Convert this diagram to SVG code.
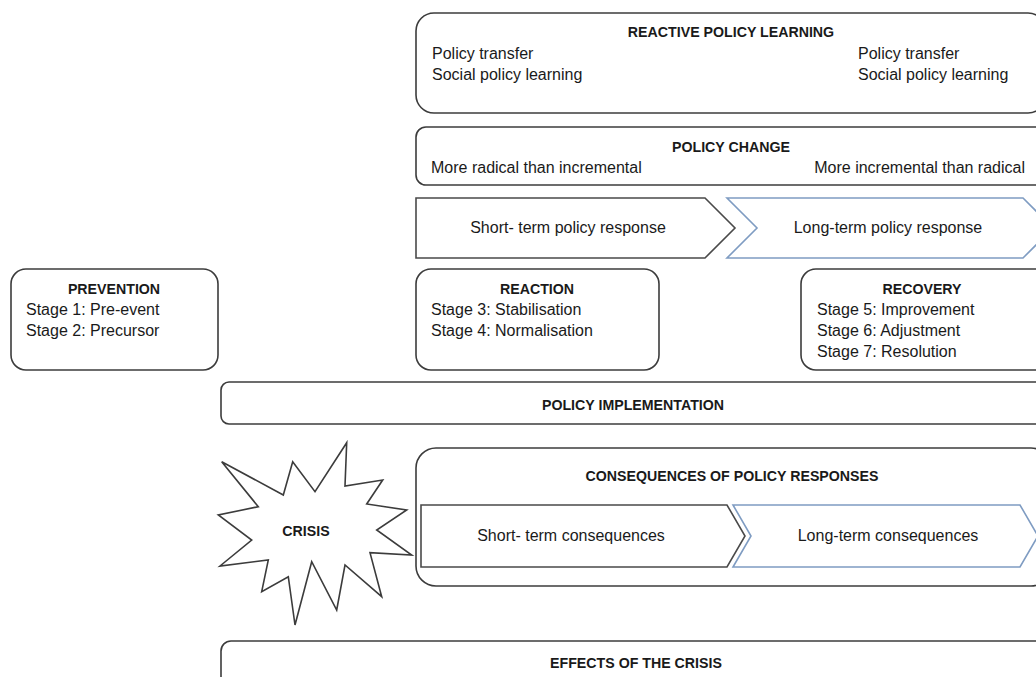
<svg xmlns="http://www.w3.org/2000/svg" width="1036" height="677" viewBox="0 0 1036 677">
<style>
.box{fill:#fff;stroke:#3c3c3c;stroke-width:1.6}
.chev{fill:#fff;stroke:#4a4a4a;stroke-width:1.6}
.chevb{fill:#fff;stroke:#7f9cc2;stroke-width:1.6}
text{font-family:"Liberation Sans",Arial,sans-serif;font-size:16px;fill:#1a1a1a}
.t{font-weight:bold;text-anchor:middle;font-size:14.2px}
.c{text-anchor:middle}
.e{text-anchor:end}
</style>
<rect width="1036" height="677" fill="#fff"/>
<g id="reactive-learning">
<rect class="box" x="416" y="13" width="630" height="100" rx="18"/>
<text class="t" x="731" y="37">REACTIVE POLICY LEARNING</text>
<text x="432" y="59">Policy transfer</text>
<text x="432" y="80">Social policy learning</text>
<text x="858" y="59">Policy transfer</text>
<text x="858" y="80">Social policy learning</text>
</g>
<g id="policy-change">
<rect class="box" x="416" y="127" width="630" height="58" rx="10"/>
<text class="t" x="731" y="152">POLICY CHANGE</text>
<text x="431" y="173">More radical than incremental</text>
<text class="e" x="1025" y="173">More incremental than radical</text>
</g>
<g id="short-term-response">
<polygon class="chev" points="416,198 705,198 735,228 705,258 416,258"/>
<text class="c" x="568" y="233">Short- term policy response</text>
</g>
<g id="long-term-response">
<polygon class="chevb" points="727,198 1023,198 1053,228 1023,258 727,258 757,228"/>
<text class="c" x="888" y="233">Long-term policy response</text>
</g>
<g id="prevention">
<rect class="box" x="11" y="269" width="207" height="101" rx="15"/>
<text class="t" x="114" y="294">PREVENTION</text>
<text x="26" y="315">Stage 1: Pre-event</text>
<text x="26" y="336">Stage 2: Precursor</text>
</g>
<g id="reaction">
<rect class="box" x="416" y="269" width="243" height="101" rx="15"/>
<text class="t" x="537" y="294">REACTION</text>
<text x="431" y="315">Stage 3: Stabilisation</text>
<text x="431" y="336">Stage 4: Normalisation</text>
</g>
<g id="recovery">
<rect class="box" x="801" y="269" width="250" height="101" rx="15"/>
<text class="t" x="922" y="294">RECOVERY</text>
<text x="817" y="315">Stage 5: Improvement</text>
<text x="817" y="336">Stage 6: Adjustment</text>
<text x="817" y="357">Stage 7: Resolution</text>
</g>
<g id="policy-implementation">
<rect class="box" x="221" y="382" width="830" height="42" rx="8"/>
<text class="t" x="633" y="410">POLICY IMPLEMENTATION</text>
</g>
<g id="crisis">
<polygon class="box" points="221.7,461.7 283.3,495 292.7,461.7 315,491.7 346.7,442.7 345,486 382.7,480 366.7,504 406.7,510 376.7,530 411.7,555 370,552.7 381.7,596.7 345,565 336.7,610 311.7,561.7 295,625 288.3,576.7 261.7,591.7 268.3,560 220,566 251.7,540 218.3,515 258.3,506.7"/>
<text class="t" x="306" y="536">CRISIS</text>
</g>
<g id="consequences">
<rect class="box" x="416" y="448" width="635" height="138" rx="20"/>
<text class="t" x="732" y="481">CONSEQUENCES OF POLICY RESPONSES</text>
</g>
<g id="short-term-consequences">
<polygon class="chev" points="421,505 727,505 745,536 727,567 421,567"/>
<text class="c" x="571" y="541">Short- term consequences</text>
</g>
<g id="long-term-consequences">
<polygon class="chevb" points="733,505 1020,505 1038,536 1020,567 733,567 751,536"/>
<text class="c" x="888" y="541">Long-term consequences</text>
</g>
<g id="effects">
<rect class="box" x="221" y="641" width="830" height="60" rx="10"/>
<text class="t" x="636" y="668">EFFECTS OF THE CRISIS</text>
</g>
<g id="connectors"></g>
</svg>
